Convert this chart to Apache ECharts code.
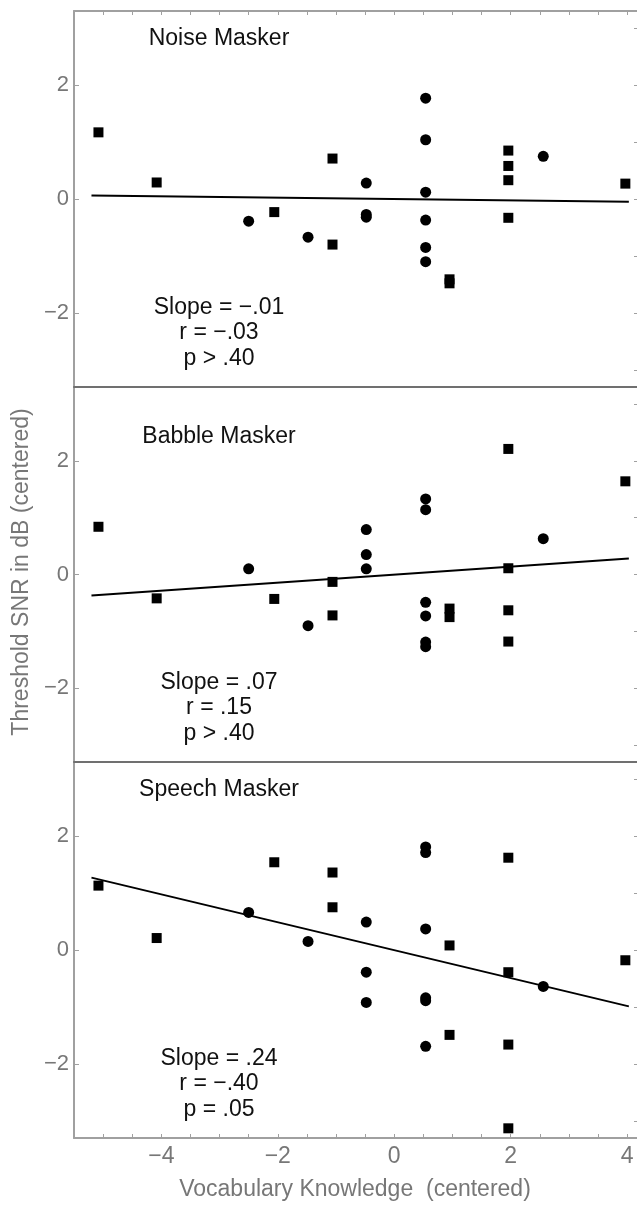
<!DOCTYPE html>
<html>
<head>
<meta charset="utf-8">
<title>Threshold SNR vs vocabulary knowledge</title>
<script src="https://cdn.jsdelivr.net/npm/echarts@6.0.0/dist/echarts.min.js"></script>
<style>
  html, body { margin: 0; padding: 0; background: #fff; }
  #chart { width: 637px; height: 1205px; }
</style>
</head>
<body>
<div id="chart"></div>
<script>
// values, one pair [vocabulary, threshold] per point
const noiseSquares = [[-5.08, 1.17], [-4.08, 0.29], [-2.06, -0.23], [-1.06, 0.71], [-1.06, -0.80], [0.95, -1.41], [0.95, -1.48], [1.96, 0.85], [1.96, 0.58], [1.96, 0.33], [1.96, -0.33], [3.97, 0.27]]
const noiseCircles = [[-2.50, -0.39], [-1.48, -0.67], [-0.48, 0.28], [-0.48, -0.27], [-0.48, -0.32], [0.54, 1.77], [0.54, 1.04], [0.54, 0.12], [0.54, -0.37], [0.54, -0.85], [0.54, -1.10], [2.56, 0.75]]
const noiseFit = [[-5.2, 0.06], [4.03, -0.05]]

const babbleSquares = [[-5.08, 0.84], [-4.08, -0.42], [-2.06, -0.43], [-1.06, -0.13], [-1.06, -0.72], [0.95, -0.60], [0.95, -0.75], [1.96, 2.21], [1.96, 0.11], [1.96, -0.63], [1.96, -1.18], [3.97, 1.64]]
const babbleCircles = [[-2.50, 0.10], [-1.48, -0.90], [-0.48, 0.79], [-0.48, 0.35], [-0.48, 0.10], [0.54, 1.33], [0.54, 1.14], [0.54, -0.49], [0.54, -0.73], [0.54, -1.19], [0.54, -1.27], [2.56, 0.63]]
const babbleFit = [[-5.2, -0.37], [4.03, 0.28]]

const speechSquares = [[-5.08, 1.13], [-4.08, 0.21], [-2.06, 1.54], [-1.06, 1.36], [-1.06, 0.75], [0.95, 0.08], [0.95, -1.49], [1.96, 1.62], [1.96, -0.39], [1.96, -1.66], [1.96, -3.13], [3.97, -0.18]]
const speechCircles = [[-2.50, 0.66], [-1.48, 0.15], [-0.48, 0.49], [-0.48, -0.39], [-0.48, -0.92], [0.54, 1.81], [0.54, 1.71], [0.54, 0.37], [0.54, -0.84], [0.54, -0.89], [0.54, -1.69], [2.56, -0.64]]
const speechFit = [[-5.2, 1.27], [4.03, -0.99]]

const panelNames = ['Noise Masker', 'Babble Masker', 'Speech Masker']
const panelStats = [
  'Slope = \u2212.01\nr = \u2212.03\np > .40',
  'Slope = .07\nr = .15\np > .40',
  'Slope = .24\nr = \u2212.40\np = .05',
]

const xLabelValues = [-4, -2, 0, 2, 4]
const xTickValues = [-5, -4.5, -4, -3.5, -3, -2.5, -2, -1.5, -1, -0.5, 0, 0.5, 1, 1.5, 2, 2.5, 3, 3.5, 4]
const yLabelValues = [-2, 0, 2]
const yRightTicks = [-3, -2, -1, 0, 1, 2, 3]

const squares = [noiseSquares, babbleSquares, speechSquares]
const circles = [noiseCircles, babbleCircles, speechCircles]
const fits = [noiseFit, babbleFit, speechFit]

const gridTops = [11, 387, 762]
const gridHeights = [376, 375, 376]
const font = '"Liberation Sans", Arial, sans-serif'
const frameGray = '#a0a0a0'
const dividerGray = '#707070'
const labelGray = '#777'

const minusSign = (v) => String(v).replace('-', '\u2212')

const grid = gridTops.map((top, i) => ({ left: 74, right: 0, top, height: gridHeights[i] }))

const xAxis = []
const yAxis = []
const series = []

gridTops.forEach((top, i) => {
  const isLast = i === gridTops.length - 1

  xAxis.push({
    gridIndex: i,
    type: 'value',
    min: -5.5,
    max: 4.17,
    position: 'bottom',
    axisLine: { show: true, onZero: false, lineStyle: { color: isLast ? frameGray : dividerGray, width: 2 } },
    axisTick: { show: isLast, inside: true, length: 4, customValues: xTickValues, lineStyle: { color: frameGray } },
    axisLabel: {
      show: isLast,
      customValues: xLabelValues,
      margin: 7,
      color: labelGray,
      fontSize: 23,
      fontFamily: font,
      formatter: minusSign,
    },
    splitLine: { show: false },
  })

  yAxis.push({
    gridIndex: i,
    type: 'value',
    min: -3.3,
    max: 3.3,
    position: 'left',
    axisLine: { show: true, onZero: false, lineStyle: { color: frameGray, width: 2 } },
    axisTick: { show: true, inside: true, length: 5, customValues: yLabelValues, lineStyle: { color: frameGray } },
    axisLabel: {
      show: true,
      customValues: yLabelValues,
      margin: 5,
      color: labelGray,
      fontSize: 22,
      fontFamily: font,
      formatter: minusSign,
    },
    splitLine: { show: false },
  })

  // ticks only on the right edge
  yAxis.push({
    gridIndex: i,
    type: 'value',
    min: -3.3,
    max: 3.3,
    position: 'right',
    axisLine: { show: false, onZero: false },
    axisTick: { show: true, inside: true, length: 3, customValues: yRightTicks, lineStyle: { color: frameGray } },
    axisLabel: { show: false },
    splitLine: { show: false },
  })

  series.push({
    type: 'scatter',
    xAxisIndex: i,
    yAxisIndex: i * 2,
    symbol: 'rect',
    symbolSize: 10,
    itemStyle: { color: '#000', opacity: 1 },
    data: squares[i],
  })
  series.push({
    type: 'scatter',
    xAxisIndex: i,
    yAxisIndex: i * 2,
    symbol: 'circle',
    symbolSize: 11,
    itemStyle: { color: '#000', opacity: 1 },
    data: circles[i],
  })
  series.push({
    type: 'line',
    xAxisIndex: i,
    yAxisIndex: i * 2,
    showSymbol: false,
    silent: true,
    lineStyle: { color: '#000', width: 2 },
    data: fits[i],
  })
})

// top frame of the first panel, with its ticks
xAxis.push({
  gridIndex: 0,
  type: 'value',
  min: -5.5,
  max: 4.17,
  position: 'top',
  axisLine: { show: true, onZero: false, lineStyle: { color: frameGray, width: 2 } },
  axisTick: { show: true, inside: true, length: 4, customValues: xTickValues, lineStyle: { color: frameGray } },
  axisLabel: { show: false },
  splitLine: { show: false },
})

const titleY = [39, 437, 790]
const statsY = [333, 708, 1084]

const graphic = []
panelNames.forEach((name, i) => {
  graphic.push({
    type: 'text',
    x: 219,
    y: titleY[i],
    style: { text: name, fontSize: 23, fontFamily: font, fill: '#111', align: 'center', verticalAlign: 'middle' },
  })
  graphic.push({
    type: 'text',
    x: 219,
    y: statsY[i],
    style: {
      text: panelStats[i],
      fontSize: 23,
      lineHeight: 25.5,
      fontFamily: font,
      fill: '#111',
      align: 'center',
      verticalAlign: 'middle',
    },
  })
})
graphic.push({
  type: 'text',
  x: 355,
  y: 1190,
  style: { text: 'Vocabulary Knowledge  (centered)', fontSize: 23, fontFamily: font, fill: labelGray, align: 'center', verticalAlign: 'middle' },
})
graphic.push({
  type: 'text',
  x: 22,
  y: 572,
  rotation: Math.PI / 2,
  style: { text: 'Threshold SNR in dB (centered)', fontSize: 23, fontFamily: font, fill: labelGray, align: 'center', verticalAlign: 'middle' },
})

const myChart = echarts.init(document.getElementById('chart'), null, { renderer: 'canvas' })
myChart.setOption({
  animation: false,
  backgroundColor: '#fff',
  grid,
  xAxis,
  yAxis,
  series,
  graphic,
})
</script>
</body>
</html>
